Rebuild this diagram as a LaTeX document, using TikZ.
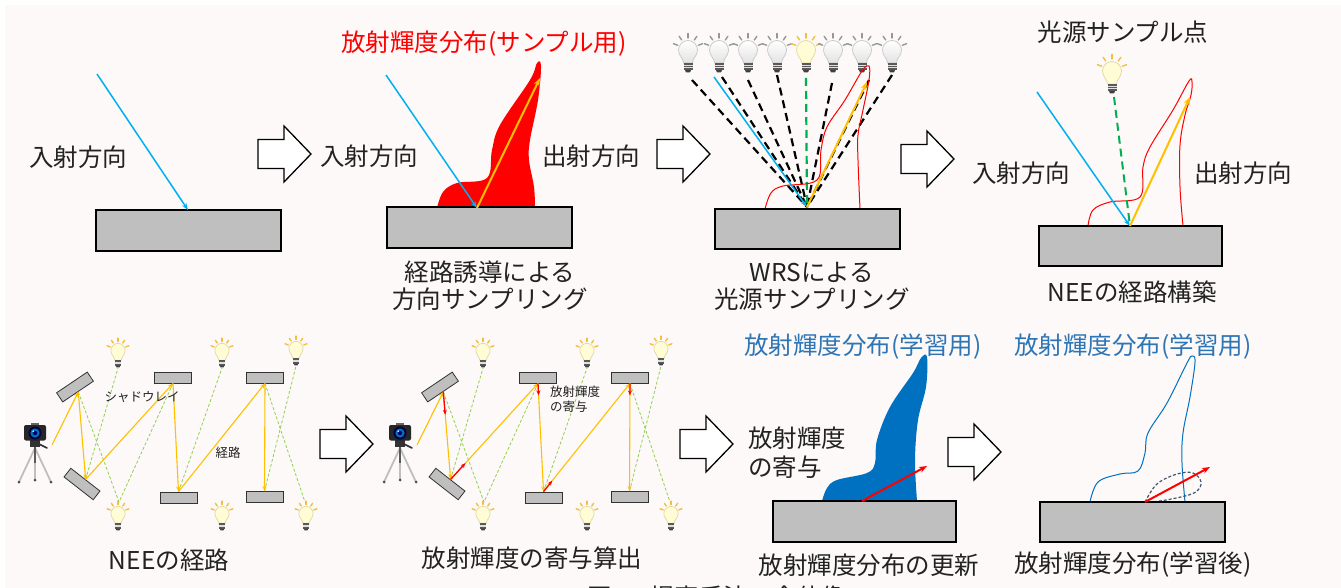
\documentclass[tikz,border=0pt]{standalone}
\usepackage{fontspec}
\setmainfont{Noto Sans CJK JP}
\usetikzlibrary{arrows.meta,calc}

\definecolor{bgcol}{RGB}{252,249,248}
\definecolor{txt}{RGB}{34,34,34}
\definecolor{boxgray}{RGB}{191,191,191}
\definecolor{skyblue}{RGB}{0,176,240}
\definecolor{gold}{RGB}{255,192,0}
\definecolor{paleGreen}{RGB}{146,208,80}
\definecolor{neeGreen}{RGB}{0,176,80}
\definecolor{deepblue}{RGB}{0,112,192}
\definecolor{titleblue}{RGB}{46,117,182}
\definecolor{slate}{RGB}{68,84,106}
\definecolor{rayoff}{RGB}{150,150,150}
\definecolor{rayon}{RGB}{245,190,60}
\definecolor{glasson}{RGB}{255,252,214}
\definecolor{rimon}{RGB}{225,215,160}

\tikzset{
  lbl/.style={font=\fontsize{24.5}{27}\selectfont, text=txt, inner sep=0pt},
  smalllbl/.style={font=\fontsize{12.5}{15}\selectfont, text=txt, inner sep=0pt},
  surface/.style={draw=black, line width=1.3pt, fill=boxgray, inner sep=0pt},
  mirror/.style={draw=black!80, line width=0.8pt, fill=boxgray, inner sep=0pt,
    minimum width=37pt, minimum height=11pt},
  incident/.style={skyblue, line width=1.5pt, -{Stealth[length=7pt,width=5pt]}},
  outgoing/.style={gold, line width=2pt, -{Stealth[length=8pt,width=6pt]}},
  hollow/.style={draw=black, line width=1.3pt, fill=white, line join=miter},
  pathseg/.style={gold, line width=1.1pt, -{Stealth[length=5pt,width=4pt]}},
  shadowray/.style={paleGreen, line width=0.8pt, dash pattern=on 3pt off 2pt},
  contrib/.style={red, line width=1.3pt, -{Stealth[length=5pt,width=4pt]}},
  candidate/.style={black, line width=2.2pt, dash pattern=on 8pt off 5pt},
  chosen/.style={neeGreen, line width=2.2pt, dash pattern=on 8pt off 5pt},
  bulb ray/.style={rayoff, line width=1.4pt, line cap=round},
  bulb glass/.style={draw=gray!45, line width=0.7pt, top color=white, bottom color=gray!22},
  unlit/.style={},
  lit/.style={bulb ray/.style={rayon, line width=1.4pt, line cap=round},
              bulb glass/.style={draw=rimon, line width=0.7pt, fill=glasson}},
  pics/hollowarrow/.style={code={
    \draw[hollow] (0,-14.5) -- (26,-14.5) -- (26,-28) -- (53,0) -- (26,28)
      -- (26,14.5) -- (0,14.5) -- cycle;}},
  pics/bulb/.style={code={
    \foreach \a in {-90,-55,-125,-20,-160}
      \draw[bulb ray] ($(0,-3)+(\a:11)$) -- ($(0,-3)+(\a:15.5)$);
    \draw[bulb glass] (-4.5,11) .. controls (-4.5,6) and (-9.5,4) .. (-9.5,-2)
      arc[start angle=180,end angle=360,radius=9.5]
      .. controls (9.5,4) and (4.5,6) .. (4.5,11) -- cycle;
    \fill[gray!70!black] (-4.5,11) rectangle (4.5,18);
    \draw[gray!25, line width=0.6pt] (-4.5,13.4) -- (4.5,13.4) (-4.5,15.7) -- (4.5,15.7);
    \fill[gray!50!black] (-3,18) -- (3,18) -- (2,20.5) -- (-2,20.5) -- cycle;
  }},
  pics/camera/.style={code={
    \draw[gray!50, line width=1.8pt] (0,15) -- (-16,49) (0,15) -- (16,49) (0,15) -- (0,47);
    \draw[gray!70!black, line width=1.4pt] (0,13) -- (0,30);
    \fill[black!70] (-16,49) circle (1.5) (16,49) circle (1.5) (0,47) circle (1.5);
    \fill[black!80] (-5,6) rectangle (5,14);
    \draw[black!80, line width=1.6pt, line cap=round] (4,11) -- (12,15);
    \fill[black!60] (-4,-10) rectangle (4,-7);
    \fill[black!85, rounded corners=2pt] (-11,-8) rectangle (11,7.5);
    \fill[blue!25!black] (0,0) circle (6.5);
    \fill[deepblue] (0,0) circle (4.6);
    \fill[blue!35!black] (0,0) circle (2.2);
    \fill[white] (-1.8,-1.8) circle (0.9);
  }},
}

\begin{document}
\begin{tikzpicture}[x=1pt,y=-1pt]
\useasboundingbox (0,0) rectangle (1341,588);
\fill[white] (0,0) rectangle (1341,588);
\fill[bgcol] (5,5) rectangle (1341,588);

% ---------- stage 1: incident direction ----------
\node[surface, minimum width=185pt, minimum height=41pt] (s1) at (188.5,230.5) {};
\coordinate (s1-from) at (97,74);
\coordinate (s1-hit) at (188,210);
\draw[incident] (s1-from) -- (s1-hit);
\node[lbl] (t-in1) at (78,157) {入射方向};
\pic at (258,154) {hollowarrow};

% ---------- stage 2: guided direction sampling ----------
\fill[red] plot[smooth, tension=0.6] coordinates {(437,208) (443,192) (457,183)
  (487,178) (492,150) (500,125) (530,80) (537,63) (541,66) (538,100) (530,140)
  (529,160) (534,187) (535,208)} -- cycle;
\node[surface, minimum width=185pt, minimum height=41pt] (s2) at (479.5,227.5) {};
\coordinate (s2-from) at (386,75);
\coordinate (s2-hit) at (477,208);
\coordinate (s2-out) at (540,78);
\draw[incident] (s2-from) -- (s2-hit);
\draw[outgoing] (s2-hit) -- (s2-out);
\node[lbl, text=red] (t-red) at (484,44) {放射輝度分布(サンプル用)};
\node[lbl] (t-in2) at (369,156) {入射方向};
\node[lbl] (t-out2) at (591,156) {出射方向};
\node[lbl, align=center] (t-guide) at (490,286) {経路誘導による\\方向サンプリング};
\pic at (657,154) {hollowarrow};

% ---------- stage 3: light sampling by WRS ----------
\foreach \x [count=\i] in {688,719,748,777,806,833,862,892}{
  \ifnum\i=5
    \pic[lit] at (\x,52) {bulb};
  \else
    \pic[unlit] at (\x,52) {bulb};
  \fi
}
\coordinate (s3-hit) at (807,207);
\foreach \x/\y in {692/80,722/77,748/80,777/75,832/83,869/80,892/75}
  \draw[candidate] (\x,\y) -- (s3-hit);
\coordinate (s3-lit) at (806,78);
\draw[chosen] (s3-lit) -- (s3-hit);
\draw[red, line width=1pt] plot[smooth, tension=0.6] coordinates {(765,209) (771,193)
  (783,186) (817,180) (821,150) (827,127) (845,100) (862,71) (869,66) (869,80)
  (863,110) (858,135) (858,160) (860,209)};
\node[surface, minimum width=185pt, minimum height=40pt] (s3) at (807.5,229) {};
\coordinate (s3-from) at (714,77);
\coordinate (s3-out) at (867,82);
\draw[incident] (s3-from) -- (s3-hit);
\draw[outgoing] (s3-hit) -- (s3-out);
\node[lbl, align=center] (t-wrs) at (812,286) {WRSによる\\光源サンプリング};
\pic at (901,159) {hollowarrow};

% ---------- stage 4: NEE path construction ----------
\node[lbl] (t-pt) at (1123,32) {光源サンプル点};
\pic[lit] at (1112,73) {bulb};
\draw[red, line width=1pt] plot[smooth, tension=0.6] coordinates {(1088,226) (1093,210)
  (1110,202) (1140,197) (1143,167) (1150,147) (1173,110) (1189,81) (1192,82)
  (1191,95) (1185,115) (1180,145) (1180,187) (1183,226)};
\node[surface, minimum width=183pt, minimum height=40pt] (s4) at (1130.5,246) {};
\coordinate (s4-from) at (1037,92);
\coordinate (s4-hit) at (1130,226);
\coordinate (s4-light) at (1114,97);
\coordinate (s4-out) at (1190,97);
\draw[chosen, line width=2pt] (s4-light) -- (s4-hit);
\draw[incident] (s4-from) -- (s4-hit);
\draw[outgoing] (s4-hit) -- (s4-out);
\node[lbl] (t-in4) at (1021,173) {入射方向};
\node[lbl] (t-out4) at (1243,173) {出射方向};
\node[lbl] (t-nee) at (1132,292) {NEEの経路構築};

% ---------- stages 5 and 6: path through the scene ----------
\foreach \ox/\p in {0/n,365/r}{
  \begin{scope}[xshift=\ox]
    \pic at (35,433) {camera};
    \node[mirror, rotate=34] (\p-m1) at (75,387) {};
    \node[mirror, rotate=-38] (\p-m2) at (82,484) {};
    \node[mirror] (\p-a) at (173,377.5) {};
    \node[mirror] (\p-b) at (265,377.5) {};
    \node[mirror] (\p-c) at (178.5,497.5) {};
    \node[mirror] (\p-d) at (264.5,497) {};
    \foreach \bx/\by in {118/352,222/352,296/350,118/515,222/515,306/515}
      \pic[lit, scale=0.75] at (\bx,\by) {bulb};
    \coordinate (\p-cam) at (52,445);
    \coordinate (\p-l1) at (118,368);
    \coordinate (\p-l2) at (222,368);
    \coordinate (\p-l3) at (296,366);
    \coordinate (\p-l4) at (119,502);
    \coordinate (\p-l6) at (305,502);
    \draw[shadowray] (\p-m1.south) -- (\p-l4);
    \draw[shadowray] (\p-m2.north) -- (\p-l1);
    \draw[shadowray] (\p-a.south) -- (\p-l4);
    \draw[shadowray] (\p-c.north) -- (\p-l2);
    \draw[shadowray] (\p-b.south) -- (\p-l6);
    \draw[shadowray] (\p-d.north) -- (\p-l3);
    \draw[pathseg] (\p-cam) -- (\p-m1.south);
    \draw[pathseg] (\p-m1.south) -- (\p-m2.north);
    \draw[pathseg] (\p-m2.north) -- (\p-a.south);
    \draw[pathseg] (\p-a.south) -- (\p-c.north);
    \draw[pathseg] (\p-c.north) -- (\p-b.south);
    \draw[pathseg] (\p-b.south) -- (\p-d.north);
  \end{scope}
}
\node[smalllbl] (t-shadow) at (142,397) {シャドウレイ};
\node[smalllbl] (t-path) at (228,453) {経路};
\node[lbl] (t-neepath) at (169,560) {NEEの経路};
\pic at (320,444) {hollowarrow};

% radiance carried back toward the camera
\draw[contrib] (r-m1.south) -- ($(r-m1.south)!23pt!(r-m2.north)$);
\draw[contrib] (r-m2.north) -- ($(r-m2.north)!22pt!(r-a.south)$);
\draw[contrib] (r-a.south) -- ($(r-a.south)!12pt!(r-c.north)$);
\draw[contrib] (r-c.north) -- ($(r-c.north)!14pt!(r-b.south)$);
\draw[contrib] (r-b.south) -- ($(r-b.south)!12pt!(r-d.north)$);
\node[smalllbl, align=left, anchor=west] (t-contrib-s) at (550,399.5) {放射輝度\\の寄与};
\node[lbl] (t-calc) at (532,558) {放射輝度の寄与算出};
\pic at (680,444) {hollowarrow};

% ---------- stage 7: update of the learned distribution ----------
\fill[deepblue] plot[smooth, tension=0.6] coordinates {(822,501) (827,488) (837,480)
  (867,473) (875,463) (877,440) (890,407) (913,373) (921,358) (927,357) (926,387)
  (918,420) (915,460) (917,501)} -- cycle;
\node[surface, minimum width=183pt, minimum height=41pt] (s7) at (864.5,521.5) {};
\coordinate (s7-hit) at (862,501);
\coordinate (s7-out) at (927,466);
\draw[contrib, line width=2pt, -{Stealth[length=8pt,width=6pt]}] (s7-hit) -- (s7-out);
\node[lbl, text=titleblue] (t-blue1) at (863,347) {放射輝度分布(学習用)};
\node[lbl, align=left, anchor=west, font=\fontsize{24.5}{29}\selectfont] (t-contrib) at (748,452.5) {放射輝度\\の寄与};
\node[lbl] (t-update) at (869,565) {放射輝度分布の更新};
\pic at (948,452) {hollowarrow};

% ---------- stage 8: learned distribution ----------
\draw[deepblue, line width=1pt] plot[smooth, tension=0.6] coordinates {(1090,502)
  (1098,482) (1120,474) (1138,471) (1145,453) (1148,433) (1167,403) (1187,363)
  (1192,356) (1195,362) (1190,397) (1183,433) (1182,463) (1185,502)};
\draw[slate, line width=1.2pt, dash pattern=on 3pt off 2pt] plot[smooth, tension=0.6]
  coordinates {(1145,502) (1157,484) (1177,474) (1193,473) (1201,482) (1197,491)
  (1185,496) (1160,501) (1145,502)};
\node[surface, minimum width=185pt, minimum height=40pt] (s8) at (1132.5,522) {};
\coordinate (s8-hit) at (1145,502);
\coordinate (s8-out) at (1210,467);
\draw[contrib, line width=2pt, -{Stealth[length=8pt,width=6pt]}] (s8-hit) -- (s8-out);
\node[lbl, text=titleblue] (t-blue2) at (1133,347) {放射輝度分布(学習用)};
\node[lbl] (t-learned) at (1133,565) {放射輝度分布(学習後)};

% figure caption, running off the lower edge
\node[lbl, anchor=north] (caption) at (717,585.5) {図1　提案手法の全体像};
\end{tikzpicture}
\end{document}
